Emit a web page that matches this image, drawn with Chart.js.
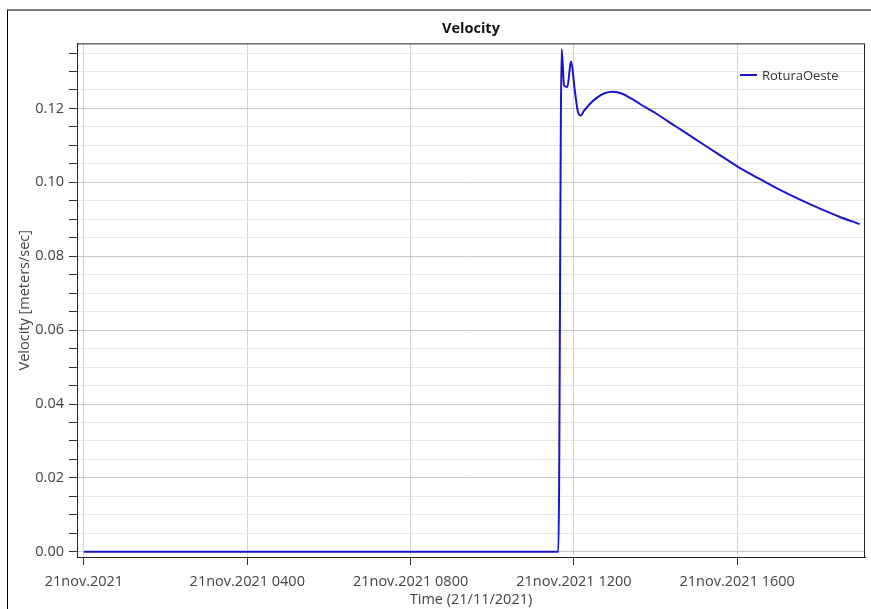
<!DOCTYPE html>
<html>
<head>
<meta charset="utf-8">
<script src="https://cdn.jsdelivr.net/npm/chart.js@4/dist/chart.umd.min.js"></script>
<style>
  html, body { margin: 0; padding: 0; background: #fff; }
  #wrap { position: relative; width: 871px; height: 609px; }
  #frame { position: absolute; left: 7px; top: 9px; right: 0; bottom: 0;
           border-left: 1px solid #000; border-top: 2px solid #7a7a7a; pointer-events: none; }
  #legend { position: absolute; left: 740px; top: 66px; height: 18px; display: flex; align-items: center;
            font-family: 'Open Sans', 'Noto Sans', sans-serif; font-size: 13px; color: #333; pointer-events: none; }
  #legend .sw { width: 17px; height: 2px; margin-right: 5px; }
</style>
</head>
<body>
<div id="wrap">
  <canvas id="c" width="871" height="609"></canvas>
  <div id="frame"></div>
  <div id="legend"></div>
</div>
<script>
// ---- data ----
const seriesName = "RoturaOeste";
const seriesColor = "#1a14d0";
const hours = [0, 11.62, 11.70, 11.76, 11.84, 11.93, 12.02, 12.10, 12.16, 12.25, 12.39, 12.55, 12.75, 12.95, 13.2, 13.4, 13.62, 14.0, 14.5, 15.0, 15.5, 15.99, 16.5, 17.0, 17.5, 18.0, 18.5, 19.0];
const velocity = [0, 0, 0.1360, 0.1262, 0.1258, 0.1328, 0.1250, 0.1190, 0.1181, 0.1194, 0.1212, 0.1228, 0.1241, 0.1245, 0.1239, 0.1227, 0.1212, 0.1187, 0.1151, 0.1115, 0.1079, 0.1044, 0.1012, 0.0982, 0.0955, 0.0930, 0.0907, 0.0887];
const xTickHours = [0, 4, 8, 12, 16];
const xTickLabels = ["21nov.2021", "21nov.2021 0400", "21nov.2021 0800", "21nov.2021 1200", "21nov.2021 1600"];
const yMajorTicks = [0, 0.02, 0.04, 0.06, 0.08, 0.10, 0.12];

const points = hours.map((h, i) => ({ x: h, y: velocity[i] }));
const FONT = "'Open Sans', 'Noto Sans', sans-serif";
const isMajor = v => yMajorTicks.some(m => Math.abs(m - v) < 1e-6);

// legend as real HTML text
(function () {
  const lg = document.getElementById('legend');
  const sw = document.createElement('span'); sw.className = 'sw'; sw.style.background = seriesColor;
  const tx = document.createElement('span'); tx.textContent = seriesName;
  lg.appendChild(sw); lg.appendChild(tx);
})();

const frameBorder = {
  id: 'frameBorder',
  afterDraw(chart) {
    const a = chart.chartArea, ctx = chart.ctx;
    ctx.save();
    ctx.strokeStyle = '#222';
    ctx.lineWidth = 1;
    ctx.strokeRect(a.left + 0.5, a.top + 0.5, a.right - a.left - 1, a.bottom - a.top);
    ctx.restore();
  }
};

new Chart(document.getElementById('c'), {
  type: 'line',
  data: {
    datasets: [{
      label: seriesName,
      data: points,
      borderColor: seriesColor,
      backgroundColor: seriesColor,
      borderWidth: 2,
      pointRadius: 0,
      cubicInterpolationMode: 'monotone',
      fill: false
    }]
  },
  options: {
    responsive: false,
    animation: false,
    layout: { padding: { left: 0, right: 6, top: 0, bottom: 0 } },
    plugins: {
      title: {
        display: true,
        text: 'Velocity',
        fullSize: false,
        color: '#111',
        font: { family: FONT, size: 14.5, weight: 'bold' },
        padding: { top: 20, bottom: 6 }
      },
      legend: { display: false },
      tooltip: { enabled: false }
    },
    scales: {
      x: {
        type: 'linear',
        min: -0.17,
        max: 19.13,
        afterFit(s) { s.height = 52; },
        afterBuildTicks(s) { s.ticks = xTickHours.map(v => ({ value: v })); },
        ticks: {
          autoSkip: false,
          maxRotation: 0,
          padding: 8,
          color: '#444',
          font: { family: FONT, size: 14.5 },
          callback: (v) => { const i = xTickHours.indexOf(v); return i >= 0 ? xTickLabels[i] : ''; }
        },
        grid: { color: '#d2d2d2', tickColor: '#333', tickLength: 8, drawOnChartArea: true },
        border: { color: '#222' },
        title: {
          display: true,
          text: 'Time (21/11/2021)',
          color: '#444',
          font: { family: FONT, size: 14.5 },
          padding: { top: 0, bottom: 0 }
        }
      },
      y: {
        type: 'linear',
        min: -0.0014,
        max: 0.1376,
        afterFit(s) { s.width = 77; },
        ticks: {
          stepSize: 0.005,
          includeBounds: false,
          autoSkip: false,
          padding: 5,
          color: '#444',
          font: { family: FONT, size: 14.5 },
          callback: (v) => isMajor(v) ? Number(v).toFixed(2) : ''
        },
        grid: {
          color: (ctx) => (ctx.tick && isMajor(ctx.tick.value)) ? '#c8c8c8' : '#e6e6e6',
          tickColor: '#333',
          tickLength: 8
        },
        border: { color: '#222' },
        title: {
          display: true,
          text: 'Velocity [meters/sec]',
          color: '#444',
          font: { family: FONT, size: 14.5 },
          padding: { top: 16, bottom: 0 }
        }
      }
    }
  },
  plugins: [frameBorder]
});
</script>
</body>
</html>
